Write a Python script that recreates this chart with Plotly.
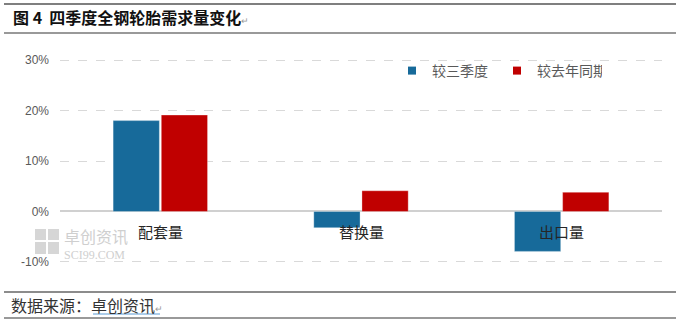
import plotly.graph_objects as go

categories = ["配套量", "替换量", "出口量"]
vs_q3 = [18.0, -3.2, -7.9]
vs_last_year = [19.1, 4.1, 3.8]
series_names = ["较三季度", "较去年同期"]
tick_vals = [-10, 0, 10, 20, 30]
tick_text = ["-10%", "0%", "10%", "20%", "30%"]

BLUE = "#176a9a"
RED = "#c00000"
W, H = 680, 324
L, R, T, B = 60, 18, 58, 60
PW, PH = W - L - R, H - T - B

def px(x):
    return (x - L) / PW

def py(y):
    return (H - B - y) / PH

CJK = "Noto Sans CJK SC"

fig = go.Figure()
for name, vals, col in [(series_names[0], vs_q3, BLUE), (series_names[1], vs_last_year, RED)]:
    fig.add_trace(go.Bar(x=categories, y=vals, name=name, marker=dict(color=col, line=dict(color="rgba(255,255,255,0.5)", width=0.6)),
                         showlegend=False))
    fig.add_trace(go.Scatter(x=[None], y=[None], mode="markers", name=name,
                             marker=dict(symbol="square", size=8, color=col), showlegend=True))

fig.update_layout(
    width=W, height=H,
    margin=dict(l=L, r=R, t=T, b=B, autoexpand=False),
    paper_bgcolor="white", plot_bgcolor="white",
    font=dict(family="Liberation Sans, Arial", size=12, color="#595959"),
    barmode="group", bargap=0.52, bargroupgap=0.04,
    showlegend=True,
    legend=dict(orientation="h", x=px(392), y=py(71), xanchor="left", yanchor="middle",
                font=dict(family=CJK, size=14, color="#595959"),
                entrywidth=60, entrywidthmode="pixels", bgcolor="rgba(0,0,0,0)",
                itemclick=False),
    xaxis=dict(showticklabels=False, showgrid=False, zeroline=False, showline=False, ticks=""),
    yaxis=dict(range=[-10.4, 30.4], tickvals=tick_vals, ticktext=tick_text, showgrid=True,
               gridcolor="#d9d9d9", griddash="dash", gridwidth=1,
               zeroline=True, zerolinecolor="#d0d0d0", zerolinewidth=1.5,
               showline=False, ticks="", ticklabelstandoff=10,
               tickfont=dict(family="Liberation Sans, Arial", size=12, color="#595959")),
)

# category labels just under the zero line
for c in categories:
    fig.add_annotation(x=c, y=0, xref="x", yref="y", text=c, showarrow=False,
                       yanchor="top", yshift=-8, font=dict(family=CJK, size=15, color="#262626"))

# title and rules
fig.add_annotation(x=px(11), y=py(17), xref="paper", yref="paper", xanchor="left", yanchor="middle",
                   text="<b>图 4  四季度全钢轮胎需求量变化</b><span style='font-size:9px;color:#999'>↵</span>",
                   showarrow=False, font=dict(family=CJK, size=16, color="#111111"))
for yy, col in [(4, "#555555"), (33, "#777777"), (292, "#666666"), (318, "#777777")]:
    fig.add_shape(type="line", xref="paper", yref="paper", x0=px(4), x1=px(676), y0=py(yy), y1=py(yy),
                  line=dict(color=col, width=1.6))

# source footer
fig.add_annotation(x=px(9), y=py(305), xref="paper", yref="paper", xanchor="left", yanchor="middle",
                   text="数据来源：卓创资讯<span style='font-size:9px;color:#999'>↵</span>", showarrow=False,
                   font=dict(family=CJK, size=16, color="#333333"))
fig.add_shape(type="line", xref="paper", yref="paper", x0=px(93), x1=px(160), y0=py(314), y1=py(314),
              line=dict(color="#5b9bd5", width=1.2))

# watermark
for (x0, y0, x1, y1) in [(35, 229, 46, 240), (48, 229, 59, 240), (35, 242, 46, 254), (48, 242, 59, 254)]:
    fig.add_shape(type="rect", xref="paper", yref="paper", x0=px(x0), x1=px(x1), y0=py(y0), y1=py(y1),
                  fillcolor="#d6d6d6", line=dict(width=0), layer="below")
fig.add_annotation(x=px(62), y=py(243), xref="paper", yref="paper", xanchor="left", yanchor="middle", align="left",
                   text="<span style='font-size:16px'>卓创资讯</span><br>"
                        "<span style='font-family:Liberation Serif;font-size:12px'>SCI99.COM</span>",
                   showarrow=False, font=dict(family=CJK, size=12, color="#cfcfcf"))

fig.write_html("out.html")
